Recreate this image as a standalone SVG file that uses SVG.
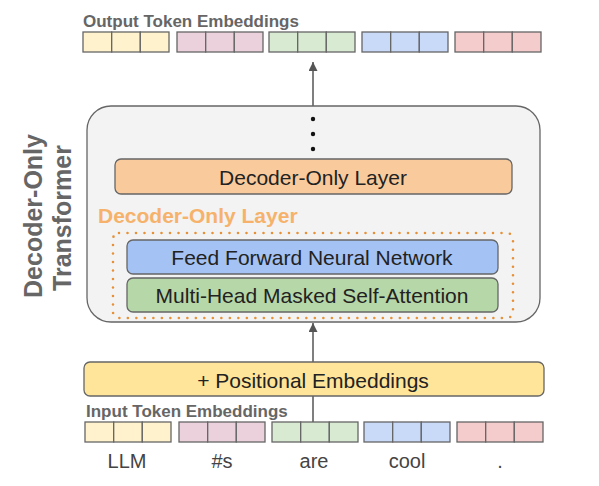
<svg xmlns="http://www.w3.org/2000/svg" width="599" height="486" viewBox="0 0 599 486">
<defs>
<style>
text{font-family:"Liberation Sans",Arial,sans-serif}
.cell{stroke:#666;stroke-width:1.3}
.y{fill:#fff2cc}.p{fill:#ead1dc}.g{fill:#d9ead3}.b{fill:#c9daf8}.r{fill:#f4cccc}
.box{stroke:#666;stroke-width:1.3}
.lbl{font-size:21px;fill:#222;text-anchor:middle}
.hdr{font-size:17px;font-weight:bold;fill:#666}
.tok{font-size:20px;fill:#444;text-anchor:middle}
.conn{stroke:#555;stroke-width:1.5;fill:none}
</style>
<marker id="ah" viewBox="0 0 10 10" refX="10" refY="5" markerWidth="9" markerHeight="9" markerUnits="userSpaceOnUse" orient="auto">
<path d="M0,0 L10,5 L0,10 z" fill="#555"/>
</marker>
<g id="cells3">
<rect class="cell" x="0" y="0" width="28.7" height="20"/>
<rect class="cell" x="28.7" y="0" width="28.6" height="20"/>
<rect class="cell" x="57.3" y="0" width="28.7" height="20"/>
</g>
</defs>
<rect width="599" height="486" fill="#fff"/>

<g id="connectors">
<path class="conn" d="M313,422 L313,323" marker-end="url(#ah)"/>
<path class="conn" d="M313,239 L313,195" marker-end="url(#ah)"/>
<path class="conn" d="M313,106 L313,62" marker-end="url(#ah)"/>
</g>

<g id="output-embeddings">
<text class="hdr" x="83" y="27">Output Token Embeddings</text>
<use href="#cells3" x="83" y="32" class="y"/>
<use href="#cells3" x="177" y="32" class="p"/>
<use href="#cells3" x="269" y="32" class="g"/>
<use href="#cells3" x="362" y="32" class="b"/>
<use href="#cells3" x="455" y="32" class="r"/>
</g>

<g id="transformer">
<rect x="87" y="106" width="453" height="216" rx="24" fill="#f3f3f3" stroke="#666" stroke-width="1.3"/>
<circle cx="313" cy="119" r="2.2" fill="#111"/>
<circle cx="313" cy="134" r="2.2" fill="#111"/>
<circle cx="313" cy="149" r="2.2" fill="#111"/>
<text transform="translate(42,216) rotate(-90)" text-anchor="middle" font-size="25" font-weight="bold" fill="#666">Decoder-Only</text>
<text transform="translate(71,218) rotate(-90)" text-anchor="middle" font-size="25" font-weight="bold" fill="#666">Transformer</text>
</g>

<g id="decoder-layer-top">
<rect class="box" x="115" y="159" width="397" height="35" rx="6" fill="#f9cb9c"/>
<text class="lbl" x="313" y="184.5">Decoder-Only Layer</text>
</g>

<g id="decoder-layer-detail">
<text x="98" y="223" font-size="21" font-weight="bold" fill="#f6b26b">Decoder-Only Layer</text>
<rect x="113" y="233" width="400" height="85" rx="6" fill="none" stroke="#e69138" stroke-width="2.6" stroke-linecap="round" stroke-dasharray="0 8.5"/>
</g>

<g id="ffn">
<rect class="box" x="127" y="240" width="371" height="34" rx="6" fill="#a4c2f4"/>
<text class="lbl" x="312" y="264.5">Feed Forward Neural Network</text>
</g>

<g id="attention">
<rect class="box" x="127" y="278" width="371" height="34" rx="6" fill="#b6d7a8"/>
<text class="lbl" x="312" y="302.5">Multi-Head Masked Self-Attention</text>
</g>

<g id="positional">
<rect class="box" x="84" y="362" width="460" height="34" rx="6" fill="#ffe599"/>
<text class="lbl" x="313" y="387.5">+ Positional Embeddings</text>
</g>

<g id="input-embeddings">
<text class="hdr" x="86" y="417">Input Token Embeddings</text>
<use href="#cells3" x="85" y="422" class="y"/>
<use href="#cells3" x="179" y="422" class="p"/>
<use href="#cells3" x="272" y="422" class="g"/>
<use href="#cells3" x="364" y="422" class="b"/>
<use href="#cells3" x="457" y="422" class="r"/>
<text class="tok" x="127" y="468">LLM</text>
<text class="tok" x="222" y="468">#s</text>
<text class="tok" x="314" y="468">are</text>
<text class="tok" x="407" y="468">cool</text>
<text class="tok" x="500" y="468">.</text>
</g>
</svg>
